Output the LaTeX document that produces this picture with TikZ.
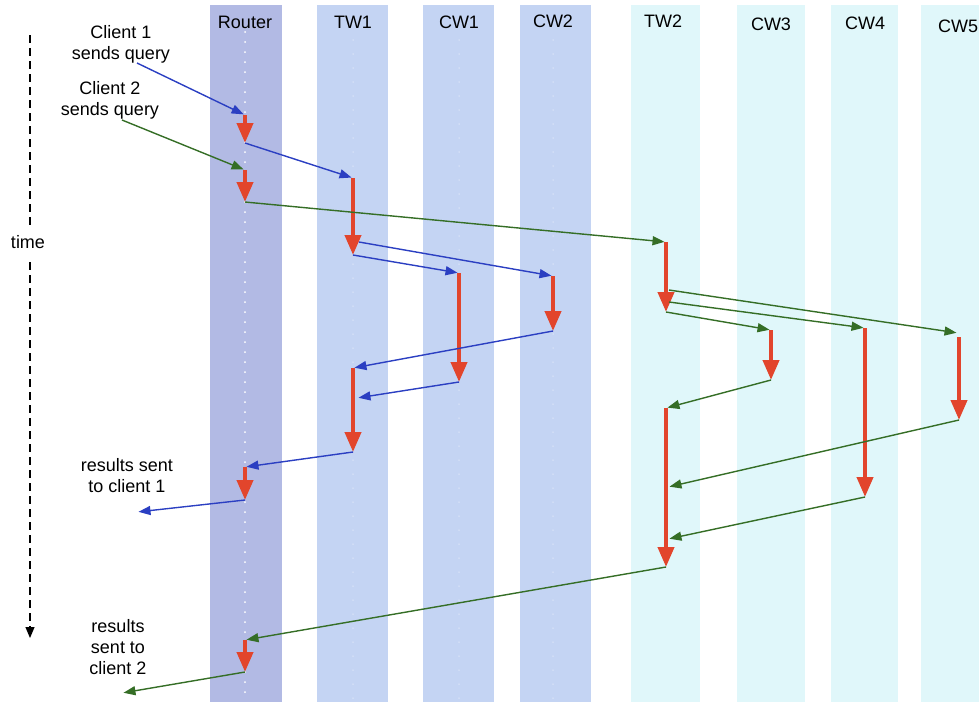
\documentclass[tikz,border=0pt]{standalone}
\usepackage{fontspec}
\setmainfont{Liberation Sans}
\usetikzlibrary{arrows.meta}
\definecolor{routerband}{HTML}{B2BAE4}
\definecolor{tierband}{HTML}{C4D4F3}
\definecolor{leafband}{HTML}{E0F7FA}
\definecolor{workred}{HTML}{E2452C}
\definecolor{qblue}{HTML}{2B3FC2}
\definecolor{qgreen}{HTML}{356E26}
\begin{document}
\begin{tikzpicture}[x=1pt,y=-1pt,
  lbl/.style={font=\fontsize{18}{21}\selectfont, align=center, inner sep=0pt},
  work/.style={draw=workred, line width=4pt, -{Triangle[width=16pt,length=20pt]}},
  msg/.style={line width=1.4pt, shorten >=1.5pt, -{Triangle[width=9pt,length=12pt]}},
  msgb/.style={msg, draw=qblue, fill=qblue},
  msgg/.style={msg, draw=qgreen, fill=qgreen}]
\useasboundingbox (0,0) rectangle (979,702);

% server columns
\fill[routerband] (210,5) rectangle (282,702);
\fill[tierband] (317,5) rectangle (388,702);
\fill[tierband] (423,5) rectangle (494,702);
\fill[tierband] (520,5) rectangle (591,702);
\fill[leafband] (631,5) rectangle (700,702);
\fill[leafband] (737,5) rectangle (805,702);
\fill[leafband] (831,5) rectangle (898,702);
\fill[leafband] (921,5) rectangle (979,702);

% timelines inside the columns
\draw[white, line width=2pt, line cap=round, dash pattern=on 0pt off 10pt] (245,32) -- (245,702);
\draw[white, opacity=0.45, line width=1.5pt, line cap=round, dash pattern=on 0pt off 14pt] (353,40) -- (353,702);
\draw[white, opacity=0.45, line width=1.5pt, line cap=round, dash pattern=on 0pt off 14pt] (459,40) -- (459,702);
\draw[white, opacity=0.45, line width=1.5pt, line cap=round, dash pattern=on 0pt off 14pt] (553,40) -- (553,702);

% column headings
\node[lbl] (hR) at (245,22) {Router};
\node[lbl] (hT1) at (353,22) {TW1};
\node[lbl] (hC1) at (459,22) {CW1};
\node[lbl] (hC2) at (553,21) {CW2};
\node[lbl] (hT2) at (663,21) {TW2};
\node[lbl] (hC3) at (771,24) {CW3};
\node[lbl] (hC4) at (865,23) {CW4};
\node[lbl] (hC5) at (958,26) {CW5};

% side labels
\node[lbl] (q1) at (121,44.5) {Client 1\\sends query};
\node[lbl] (q2) at (110,100) {Client 2\\sends query};
\node[lbl] (res1) at (127,476) {results sent\\to client 1};
\node[lbl] (res2) at (118,647.5) {results\\sent to\\client 2};
\node[lbl] (tl) at (28,242) {time};

% time axis
\coordinate (ta) at (30,35);
\coordinate (tb) at (30,226);
\coordinate (tc) at (30,262);
\coordinate (td) at (30,638);
\draw[line width=1.1pt, dash pattern=on 8pt off 5pt] (ta) -- (tb);
\draw[line width=1.1pt, dash pattern=on 8pt off 5pt, -{Triangle[width=9pt,length=11pt]}] (tc) -- (td);

% processing intervals
\coordinate (r1a) at (245,115); \coordinate (r1b) at (245,143);
\coordinate (r2a) at (245,170); \coordinate (r2b) at (245,202);
\coordinate (r3a) at (245,467); \coordinate (r3b) at (245,500);
\coordinate (r4a) at (245,640); \coordinate (r4b) at (245,672);
\coordinate (t1a) at (353,178); \coordinate (t1b) at (353,255);
\coordinate (t2a) at (353,368); \coordinate (t2b) at (353,452);
\coordinate (c1a) at (459,273); \coordinate (c1b) at (459,382);
\coordinate (c2a) at (553,276); \coordinate (c2b) at (553,331);
\coordinate (w1a) at (666,242); \coordinate (w1b) at (666,312);
\coordinate (w2a) at (666,408); \coordinate (w2b) at (666,567);
\coordinate (c3a) at (771,330); \coordinate (c3b) at (771,380);
\coordinate (c4a) at (865,328); \coordinate (c4b) at (865,497);
\coordinate (c5a) at (959,337); \coordinate (c5b) at (959,420);

\foreach \s/\e in {r1a/r1b, r2a/r2b, r3a/r3b, r4a/r4b, t1a/t1b, t2a/t2b,
                   c1a/c1b, c2a/c2b, w1a/w1b, w2a/w2b, c3a/c3b, c4a/c4b, c5a/c5b}
  \draw[work] (\s) -- (\e);

% message end points
\coordinate (cl1) at (137,63);
\coordinate (cl2) at (122,120);
\coordinate (out1) at (137,512);
\coordinate (out2) at (122,693);
\coordinate (t1h) at (359,242);
\coordinate (t2h) at (357,398);
\coordinate (w1h1) at (669,290);
\coordinate (w1h2) at (669,302);
\coordinate (c5in) at (958,333);
\coordinate (w2h1) at (668,487);
\coordinate (w2h2) at (668,539);

% query 1
\draw[msgb] (cl1) -- (r1a);
\draw[msgb] (r1b) -- (t1a);
\draw[msgb] (t1b) -- (c1a);
\draw[msgb] (t1h) -- (c2a);
\draw[msgb] (c2b) -- (t2a);
\draw[msgb] (c1b) -- (t2h);
\draw[msgb] (t2b) -- (r3a);
\draw[msgb] (r3b) -- (out1);

% query 2
\draw[msgg] (cl2) -- (r2a);
\draw[msgg] (r2b) -- (w1a);
\draw[msgg] (w1h1) -- (c5in);
\draw[msgg] (w1h2) -- (c4a);
\draw[msgg] (w1b) -- (c3a);
\draw[msgg] (c3b) -- (w2a);
\draw[msgg] (c5b) -- (w2h1);
\draw[msgg] (c4b) -- (w2h2);
\draw[msgg] (w2b) -- (r4a);
\draw[msgg] (r4b) -- (out2);
\end{tikzpicture}
\end{document}
